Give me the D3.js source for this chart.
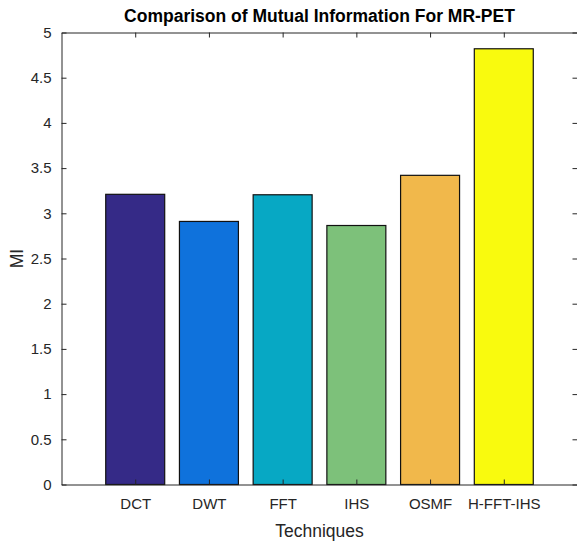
<!DOCTYPE html>
<html>
<head>
<meta charset="utf-8">
<script src="https://cdn.jsdelivr.net/npm/d3@7"></script>
<style>
  body { margin: 0; background: #fff; }
  text { font-family: "Liberation Sans", Arial, sans-serif; }
</style>
</head>
<body>
<script>
// chart data
var techniques = ["DCT", "DWT", "FFT", "IHS", "OSMF", "H-FFT-IHS"];
var miValues = [3.21, 2.91, 3.205, 2.865, 3.42, 4.82];
var barColors = ["#352a87", "#0f72dc", "#07a8c4", "#7dc17a", "#f1b84b", "#f9fa0e"];
var yTicks = [0, 0.5, 1, 1.5, 2, 2.5, 3, 3.5, 4, 4.5, 5];

var width = 577, height = 542;
var plotLeft = 61.5, plotRight = 577.5, plotTop = 32.5, plotBottom = 484.5;

var svg = d3.select("body").append("svg")
    .attr("width", width)
    .attr("height", height);

// x positions: categories 1..6 on a 0..7 range
var xScale = d3.scaleLinear().domain([0, 7]).range([plotLeft, plotRight]);
var yScale = d3.scaleLinear().domain([0, 5]).range([plotBottom, plotTop]);
var barWidth = (xScale(1) - xScale(0)) * 0.8;

// bars
svg.append("g")
    .selectAll("rect")
    .data(miValues)
    .enter().append("rect")
    .attr("x", function (d, i) { return xScale(i + 1) - barWidth / 2; })
    .attr("y", function (d) { return yScale(d); })
    .attr("width", barWidth)
    .attr("height", function (d) { return yScale(0) - yScale(d); })
    .style("fill", function (d, i) { return barColors[i]; })
    .style("stroke", "#111")
    .style("stroke-width", 1.2);

var tickColor = "#262626";

// y axes, left with labels and right without
var yAxisLeft = svg.append("g")
    .attr("transform", "translate(" + plotLeft + ",0)")
    .call(d3.axisLeft(yScale).tickValues(yTicks).tickSizeInner(-5).tickSizeOuter(0).tickPadding(10)
        .tickFormat(function (d) { return d3.format("")(d); }));

var yAxisRight = svg.append("g")
    .attr("transform", "translate(" + plotRight + ",0)")
    .call(d3.axisRight(yScale).tickValues(yTicks).tickSizeInner(-5).tickSizeOuter(0).tickFormat(""));

// x axes, bottom with labels and top without
var xAxisBottom = svg.append("g")
    .attr("transform", "translate(0," + plotBottom + ")")
    .call(d3.axisBottom(xScale).tickValues([1, 2, 3, 4, 5, 6]).tickSizeInner(-5).tickSizeOuter(0).tickPadding(14)
        .tickFormat(function (d) { return techniques[d - 1]; }));

var xAxisTop = svg.append("g")
    .attr("transform", "translate(0," + plotTop + ")")
    .call(d3.axisTop(xScale).tickValues([1, 2, 3, 4, 5, 6]).tickSizeInner(-5).tickSizeOuter(0).tickFormat(""));

[yAxisLeft, yAxisRight, xAxisBottom, xAxisTop].forEach(function (ax) {
    ax.selectAll("path, line").attr("stroke", tickColor).attr("stroke-width", 1);
    ax.selectAll("text")
        .attr("fill", tickColor)
        .style("font-size", "15px")
        .style("font-family", "'Liberation Sans', Arial, sans-serif");
});

// title and axis labels
svg.append("text")
    .attr("x", (plotLeft + plotRight) / 2)
    .attr("y", 22)
    .attr("text-anchor", "middle")
    .style("font-size", "17.5px")
    .style("font-weight", "bold")
    .style("fill", "#000")
    .text("Comparison of Mutual Information For MR-PET");

svg.append("text")
    .attr("x", (plotLeft + plotRight) / 2)
    .attr("y", 537)
    .attr("text-anchor", "middle")
    .style("font-size", "17.5px")
    .style("fill", tickColor)
    .text("Techniques");

svg.append("text")
    .attr("transform", "translate(23," + ((plotTop + plotBottom) / 2) + ") rotate(-90)")
    .attr("text-anchor", "middle")
    .style("font-size", "17.5px")
    .style("fill", tickColor)
    .text("MI");
</script>
</body>
</html>
